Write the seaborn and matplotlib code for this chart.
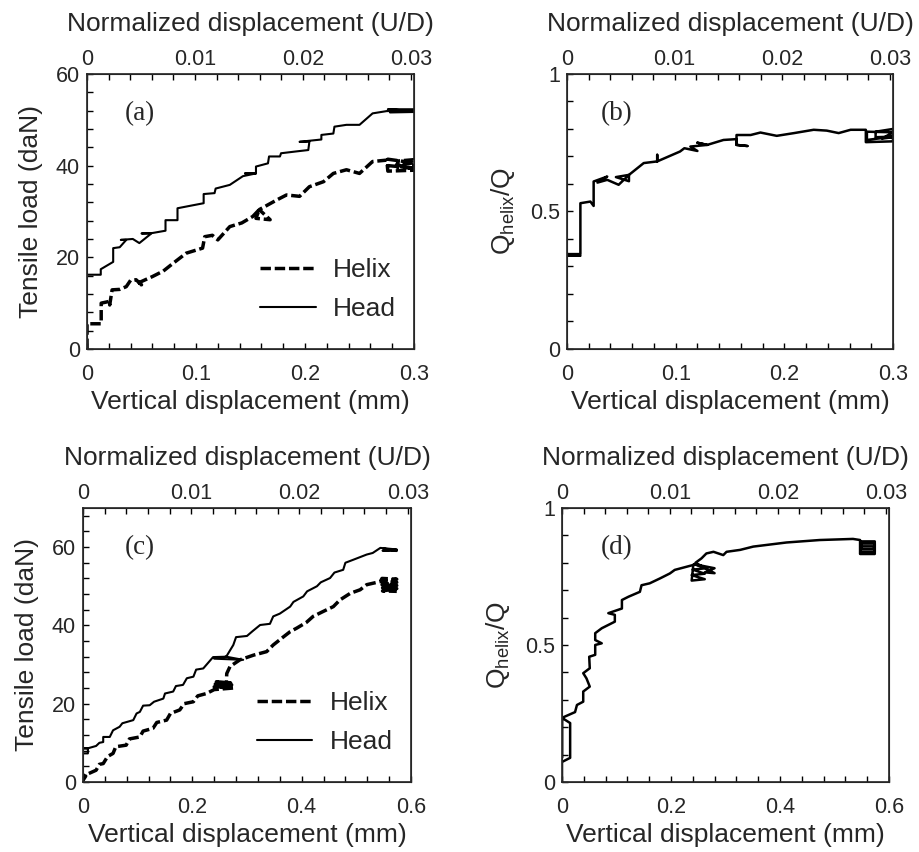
import matplotlib
matplotlib.use("Agg")
import matplotlib.pyplot as plt
import seaborn as sns
from matplotlib.ticker import MultipleLocator, FuncFormatter

# ---- data: (x in mm, y) ----
a_head_x = [0, 0.0126, 0.0126, 0.024, 0.024, 0.030, 0.036, 0.031, 0.042, 0.048, 0.059, 0.050, 0.060, 0.072,
            0.072, 0.083, 0.083, 0.096, 0.107, 0.107, 0.117, 0.118, 0.131, 0.143, 0.155, 0.145, 0.155, 0.155,
            0.166, 0.167, 0.177, 0.178, 0.192, 0.203, 0.204, 0.195, 0.215, 0.215, 0.226, 0.227, 0.238, 0.250,
            0.262, 0.275, 0.300, 0.276, 0.300, 0.278, 0.300, 0.280, 0.300]
a_head_y = [16.2, 16.2, 17.4, 19.0, 22.0, 22.2, 23.8, 23.8, 24.0, 23.1, 25.2, 25.2, 25.3, 25.8,
            28.1, 28.1, 30.7, 31.3, 31.8, 33.8, 34.0, 35.0, 35.8, 37.7, 38.3, 38.3, 38.3, 39.8,
            40.5, 42.0, 42.0, 42.7, 43.1, 43.4, 45.2, 45.2, 45.7, 46.7, 47.0, 48.5, 48.9, 48.9,
            51.4, 51.9, 51.9, 52.3, 52.3, 51.6, 51.7, 52.1, 52.1]

a_helix_x = [0, 0, 0.013, 0.013, 0.0208, 0.0208, 0.023, 0.030, 0.036, 0.040, 0.045, 0.050, 0.046, 0.060,
             0.070, 0.079, 0.091, 0.106, 0.108, 0.115, 0.120, 0.131, 0.142, 0.152, 0.158, 0.155, 0.168,
             0.158, 0.174, 0.183, 0.195, 0.204, 0.217, 0.226, 0.238, 0.250, 0.262, 0.275, 0.276, 0.300,
             0.300, 0.285, 0.285, 0.300, 0.276, 0.276, 0.300, 0.284, 0.300, 0.300]
a_helix_y = [0, 5.5, 5.5, 10.0, 10.4, 9.6, 12.9, 13.0, 13.6, 15.0, 15.1, 14.0, 14.3, 15.8,
             17.0, 18.7, 20.9, 22.0, 24.5, 24.8, 23.8, 26.7, 27.5, 28.9, 30.4, 28.5, 28.2,
             30.4, 32.5, 33.6, 33.3, 35.4, 36.5, 38.3, 39.1, 38.3, 40.9, 41.2, 38.8, 39.0,
             41.3, 41.0, 39.6, 39.5, 40.0, 41.4, 40.6, 40.2, 39.3, 40.0]

b_x = [0, 0.0123, 0.0005, 0.0123, 0.0123, 0.0215, 0.0245, 0.0245, 0.037, 0.028, 0.037, 0.0475, 0.057,
       0.057, 0.045, 0.057, 0.0706, 0.083, 0.083, 0.083, 0.104, 0.108, 0.120, 0.1135, 0.129, 0.120, 0.129,
       0.144, 0.156, 0.156, 0.166, 0.156, 0.156, 0.169, 0.178, 0.193, 0.209, 0.227, 0.239, 0.250, 0.261,
       0.275, 0.275, 0.300, 0.300, 0.284, 0.284, 0.300, 0.276, 0.276, 0.300, 0.290, 0.300]
b_y = [0.339, 0.339, 0.345, 0.345, 0.530, 0.536, 0.520, 0.609, 0.627, 0.605, 0.615, 0.597, 0.633,
       0.610, 0.625, 0.633, 0.676, 0.682, 0.706, 0.682, 0.718, 0.730, 0.720, 0.736, 0.742, 0.750, 0.742,
       0.760, 0.763, 0.742, 0.738, 0.742, 0.778, 0.778, 0.787, 0.775, 0.785, 0.797, 0.794, 0.785, 0.797,
       0.797, 0.752, 0.755, 0.800, 0.790, 0.770, 0.772, 0.760, 0.790, 0.788, 0.765, 0.770]

c_head_x = [0, 0.009, 0.009, 0, 0.009, 0.024, 0.030, 0.037, 0.037, 0.049, 0.055, 0.067, 0.072, 0.092,
            0.098, 0.104, 0.110, 0.122, 0.130, 0.147, 0.150, 0.165, 0.170, 0.183, 0.190, 0.202, 0.207,
            0.220, 0.238, 0.262, 0.240, 0.293, 0.262, 0.275, 0.280, 0.300, 0.310, 0.324, 0.342, 0.348,
            0.360, 0.379, 0.385, 0.403, 0.410, 0.428, 0.435, 0.452, 0.460, 0.476, 0.480, 0.495, 0.519,
            0.530, 0.544, 0.574, 0.548, 0.574, 0.550, 0.574]
c_head_y = [7.3, 7.3, 8.6, 8.6, 8.6, 9.2, 10.0, 10.2, 11.5, 11.5, 13.2, 14.1, 15.0, 15.8,
            17.5, 17.9, 19.5, 19.6, 20.5, 21.3, 22.6, 23.1, 24.5, 24.8, 26.5, 26.9, 28.7,
            29.0, 31.9, 32.0, 31.5, 31.2, 32.0, 35.0, 37.0, 37.3, 38.5, 40.1, 40.4, 42.3,
            43.0, 44.8, 46.0, 47.4, 48.7, 50.0, 51.0, 52.1, 53.5, 54.2, 56.0, 56.8, 58.1,
            58.5, 59.8, 59.4, 59.1, 59.0, 59.6, 59.3]

c_helix_x = [0, 0.005, 0.0, 0.024, 0.030, 0.037, 0.045, 0.055, 0.060, 0.079, 0.085, 0.104, 0.110, 0.128,
             0.135, 0.153, 0.160, 0.177, 0.185, 0.202, 0.210, 0.226, 0.240, 0.275, 0.240, 0.272, 0.242,
             0.270, 0.244, 0.262, 0.263, 0.269, 0.287, 0.312, 0.336, 0.348, 0.367, 0.379, 0.391, 0.409,
             0.421, 0.440, 0.458, 0.470, 0.489, 0.507, 0.519, 0.544, 0.547, 0.574, 0.547, 0.574, 0.547,
             0.574, 0.548, 0.574, 0.548, 0.574]
c_helix_y = [0.4, 1.5, 1.5, 3.0, 4.5, 4.7, 6.5, 7.3, 9.0, 9.4, 11.0, 11.5, 13.0, 13.7,
             15.2, 15.8, 17.5, 18.4, 20.0, 20.5, 22.0, 22.6, 23.6, 24.0, 24.3, 24.8, 25.0,
             25.3, 25.6, 24.5, 27.7, 29.5, 31.2, 32.4, 33.3, 35.0, 37.1, 38.4, 39.3, 40.8,
             42.3, 43.6, 44.8, 46.5, 48.2, 49.1, 50.4, 51.2, 52.0, 51.8, 51.2, 51.0, 50.4,
             50.2, 49.6, 49.4, 48.8, 48.7]

d_x = [0, 0, 0.015, 0.015, 0, 0, 0, 0.024, 0.0275, 0.039, 0.039, 0.051, 0.045, 0.039, 0.051, 0.050,
       0.061, 0.061, 0.073, 0.061, 0.061, 0.073, 0.085, 0.097, 0.097, 0.085, 0.110, 0.110, 0.122, 0.143,
       0.146, 0.161, 0.180, 0.198, 0.207, 0.241, 0.238, 0.262, 0.238, 0.262, 0.240, 0.264, 0.242, 0.280,
       0.262, 0.280, 0.245, 0.256, 0.265, 0.278, 0.296, 0.302, 0.327, 0.351, 0.412, 0.473, 0.534, 0.547,
       0.547, 0.574, 0.574, 0.548, 0.548, 0.574, 0.574, 0.550, 0.550, 0.572, 0.572, 0.550]
d_y = [0, 0.073, 0.088, 0.215, 0.234, 0.088, 0.234, 0.255, 0.281, 0.293, 0.330, 0.348, 0.378, 0.397,
       0.415, 0.457, 0.464, 0.500, 0.506, 0.518, 0.543, 0.561, 0.573, 0.585, 0.610, 0.616, 0.633, 0.664,
       0.676, 0.694, 0.718, 0.725, 0.743, 0.761, 0.774, 0.792, 0.735, 0.740, 0.755, 0.760, 0.775, 0.780,
       0.795, 0.780, 0.765, 0.762, 0.800, 0.816, 0.834, 0.840, 0.828, 0.840, 0.847, 0.859, 0.874, 0.883,
       0.887, 0.883, 0.832, 0.832, 0.878, 0.878, 0.840, 0.840, 0.870, 0.870, 0.850, 0.850, 0.860, 0.860]

sns.set_style("ticks")
plt.rcParams["font.family"] = ["Liberation Sans", "DejaVu Sans"]
plt.rcParams["mathtext.default"] = "regular"

LABEL_FS = 19
TICK_FS = 15.5
fmt = FuncFormatter(lambda v, p: f"{v:g}")

fig = plt.figure(figsize=(9.19, 8.52), dpi=100)
axes = {
    "a": fig.add_axes([0.0947, 0.5904, 0.3558, 0.3228]),
    "b": fig.add_axes([0.6170, 0.5904, 0.3547, 0.3228]),
    "c": fig.add_axes([0.0903, 0.0822, 0.3569, 0.3216]),
    "d": fig.add_axes([0.6115, 0.0822, 0.3558, 0.3216]),
}
panel_pos = {"a": (0.162, 0.855), "b": (0.153, 0.855), "c": (0.174, 0.854), "d": (0.168, 0.857)}


def style_axes(ax, xmax, xminor, ymax, ymajor, yminor, ylabel):
    ax.set_xlim(0, xmax)
    ax.set_ylim(0, ymax)
    ax.xaxis.set_major_locator(MultipleLocator(xmax / 3))
    ax.xaxis.set_minor_locator(MultipleLocator(xminor))
    ax.yaxis.set_major_locator(MultipleLocator(ymajor))
    ax.yaxis.set_minor_locator(MultipleLocator(yminor))
    ax.xaxis.set_major_formatter(fmt)
    ax.yaxis.set_major_formatter(fmt)
    for sp in ax.spines.values():
        sp.set_visible(True)
        sp.set_linewidth(1.2)
        sp.set_color("#222222")

    top = ax.twiny()
    top.set_xlim(0, 0.0303)
    top.xaxis.set_major_locator(MultipleLocator(0.01))
    top.xaxis.set_minor_locator(MultipleLocator(0.002))
    top.xaxis.set_major_formatter(fmt)
    top.tick_params(axis="x", which="both", direction="in", length=4.5, width=1.0, color="black")
    top.tick_params(axis="x", which="major", labelsize=TICK_FS, pad=2.5)
    top.set_xlabel("Normalized displacement (U/D)", fontsize=LABEL_FS, labelpad=13)

    # bottom / left ticks set after twiny so nothing resets them
    ax.tick_params(which="both", direction="in", length=4.5, width=1.0, color="black")
    ax.tick_params(axis="x", which="major", labelsize=TICK_FS, pad=11)
    ax.tick_params(axis="y", which="major", labelsize=TICK_FS, pad=5)
    ax.set_xlabel("Vertical displacement (mm)", fontsize=LABEL_FS, labelpad=3.5)
    ax.set_ylabel(ylabel, fontsize=LABEL_FS, labelpad=9.5)
    return top


dash = (0, (3.0, 1.1))

# (a)
ax = axes["a"]
sns.lineplot(x=a_helix_x, y=a_helix_y, sort=False, estimator=None, ax=ax, color="black",
             linewidth=2.5, linestyle=dash, label="Helix")
sns.lineplot(x=a_head_x, y=a_head_y, sort=False, estimator=None, ax=ax, color="black",
             linewidth=1.5, label="Head")
style_axes(ax, 0.3, 0.02, 60, 20, 4, "Tensile load (daN)")

# (b)
ax = axes["b"]
sns.lineplot(x=b_x, y=b_y, sort=False, estimator=None, ax=ax, color="black", linewidth=1.8)
style_axes(ax, 0.3, 0.02, 1, 0.5, 0.1, r"Q$_{helix}$/Q")

# (c)
ax = axes["c"]
sns.lineplot(x=c_helix_x, y=c_helix_y, sort=False, estimator=None, ax=ax, color="black",
             linewidth=2.5, linestyle=dash, label="Helix")
sns.lineplot(x=c_head_x, y=c_head_y, sort=False, estimator=None, ax=ax, color="black",
             linewidth=1.5, label="Head")
style_axes(ax, 0.6, 0.04, 70, 20, 4, "Tensile load (daN)")

# (d)
ax = axes["d"]
sns.lineplot(x=d_x, y=d_y, sort=False, estimator=None, ax=ax, color="black", linewidth=1.8)
style_axes(ax, 0.6, 0.04, 1, 0.5, 0.1, r"Q$_{helix}$/Q")

for key in ("a", "c"):
    axes[key].legend(loc="lower left", bbox_to_anchor=(0.53, 0.102), frameon=False, fontsize=LABEL_FS,
                     handlelength=2.1, handletextpad=0.65, labelspacing=0.57, borderpad=0, borderaxespad=0)

for key, ax in axes.items():
    ax.text(*panel_pos[key], f"({key})", transform=ax.transAxes, ha="center", va="center",
            fontsize=19.5, family=["Liberation Serif", "DejaVu Serif"])

fig.savefig("out.png", dpi=100)
